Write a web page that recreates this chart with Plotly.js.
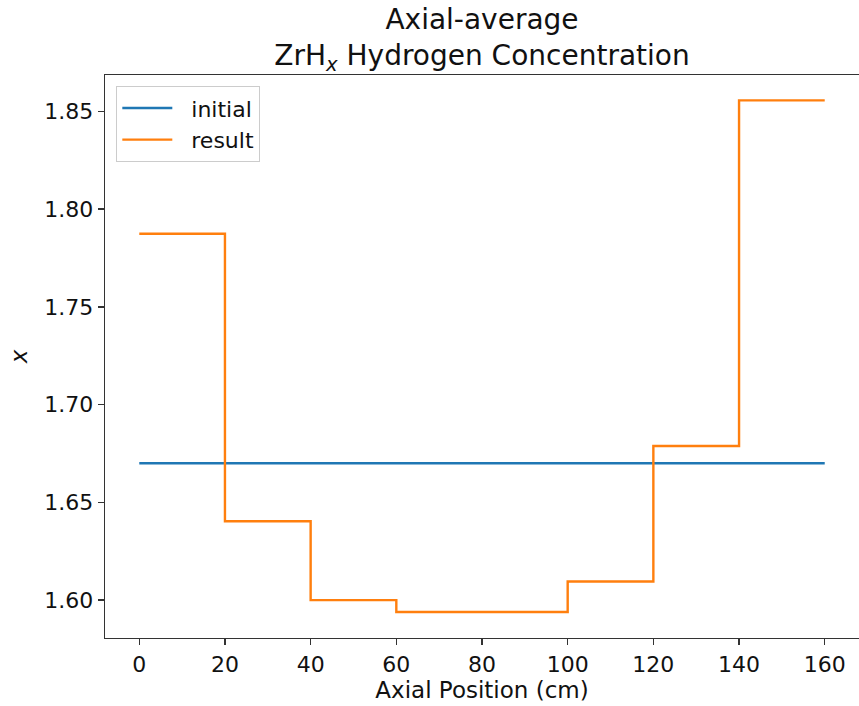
<!DOCTYPE html>
<html>
<head>
<meta charset="utf-8">
<script src="https://cdn.plot.ly/plotly-3.0.1.min.js"></script>
<style>
  html, body { margin: 0; padding: 0; background: #fff; }
  #chart { width: 859px; height: 706px; }
</style>
</head>
<body>
<div id="chart"></div>
<script>
// Axial node boundaries (cm) and hydrogen-to-zirconium ratio per node
const axialEdges = [0, 20, 40, 60, 80, 100, 120, 140, 160];
const initialX = [1.67, 1.67, 1.67, 1.67, 1.67, 1.67, 1.67, 1.67, 1.67];
// step values held until the next edge (last value repeated to close the step)
const resultX = [1.7874, 1.6403, 1.6000, 1.5939, 1.5939, 1.6095, 1.6788, 1.8556, 1.8556];
const seriesNames = ["initial", "result"];
const xTicks = [0, 20, 40, 60, 80, 100, 120, 140, 160];
const yTicks = [1.60, 1.65, 1.70, 1.75, 1.80, 1.85];

const font = "DejaVu Sans, sans-serif";
const pad = "\u00a0\u00a0"; // gap between legend line sample and label

const traces = [
  {
    x: axialEdges, y: initialX, name: pad + seriesNames[0], mode: "lines",
    line: { color: "#1f77b4", width: 2.4, shape: "hv" }
  },
  {
    x: axialEdges, y: resultX, name: pad + seriesNames[1], mode: "lines",
    line: { color: "#ff7f0e", width: 2.4, shape: "hv" }
  }
];

const axisCommon = {
  showgrid: false, zeroline: false,
  showline: true, linecolor: "#333", linewidth: 1.3,
  ticks: "outside", ticklen: 6, tickwidth: 1.3, tickcolor: "#333",
  tickfont: { family: font, size: 22, color: "#111" }
};

const layout = {
  width: 859, height: 706,
  paper_bgcolor: "#fff", plot_bgcolor: "#fff",
  margin: { l: 105, r: 0, t: 75, b: 68 },
  title: {
    text: "Axial-average<br>ZrH<sub><i>x</i></sub> Hydrogen Concentration",
    font: { family: font, size: 28, color: "#111" },
    xref: "paper", x: 0.5, xanchor: "center", y: 0.959, yanchor: "top"
  },
  xaxis: Object.assign({}, axisCommon, {
    range: [-8, 168], tickvals: xTicks, ticktext: xTicks.map(String),
    mirror: true,
    title: { text: "Axial Position (cm)", font: { family: font, size: 23, color: "#111" }, standoff: 6 }
  }),
  yaxis: Object.assign({}, axisCommon, {
    range: [1.5806, 1.8686], tickvals: yTicks, ticktext: yTicks.map(v => v.toFixed(2)),
    title: { text: "<i>x</i>", font: { family: font, size: 23, color: "#111" }, standoff: 10 }
  }),
  showlegend: true,
  legend: {
    x: 0.015, y: 0.98, xanchor: "left", yanchor: "top",
    bgcolor: "rgba(255,255,255,0.8)", bordercolor: "#ccc", borderwidth: 1,
    font: { family: font, size: 22, color: "#111" },
    itemwidth: 50
  }
};

Plotly.newPlot("chart", traces, layout, { displayModeBar: false, staticPlot: true });
</script>
</body>
</html>
